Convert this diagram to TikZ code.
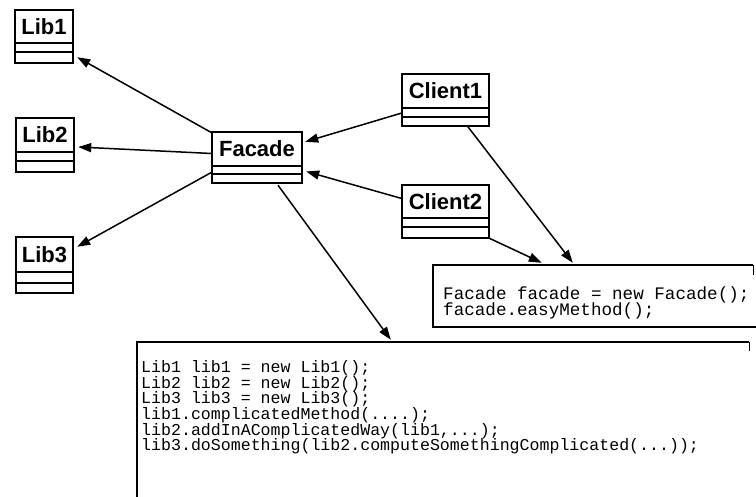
\documentclass[tikz,border=0pt]{standalone}
\usepackage{fontspec}
\setmainfont{Liberation Sans}
\newfontfamily\codefont{Liberation Mono}
\usetikzlibrary{arrows.meta,fit,calc}

\tikzset{
  boxline/.style={line width=1.8pt, draw=black},
  classname/.style={font=\fontsize{22}{24}\selectfont\bfseries, inner sep=0pt},
  assoc/.style={line width=1.5pt, -{Triangle[length=13pt,width=9pt]}},
  noteline/.style={line width=1.6pt},
  foldline/.style={line width=1pt},
  codesmall/.style={font=\codefont\fontsize{17.6}{17}\selectfont, anchor=base west, inner sep=0pt},
  codebig/.style={font=\codefont\fontsize{16.6}{16}\selectfont, anchor=base west, inner sep=0pt},
}

% UML class box: name, label, left, top, right, bottom, divider 1, divider 2
\newcommand\umlclass[8]{%
  \draw[boxline] (#3,#4) rectangle (#5,#6);
  \draw[boxline] (#3,#7) -- (#5,#7) (#3,#8) -- (#5,#8);
  \node[inner sep=0pt, fit={(#3,#4) (#5,#6)}] (#1) {};
  \node[classname] (#1-name) at ($(#3,#4)!.5!(#5,#7)$) {#2};
}

\begin{document}
\begin{tikzpicture}[x=1pt, y=-1pt]
  \useasboundingbox (0,0) rectangle (756,497);
  \clip (0,0) rectangle (756,497);
  \fill[white] (0,0) rectangle (756,497);

  % classes
  \umlclass{lib1}{Lib1}{15}{10}{73}{63}{43}{52}
  \umlclass{lib2}{Lib2}{16}{118}{74}{172}{152}{161}
  \umlclass{lib3}{Lib3}{16}{237}{73}{293}{272}{283}
  \umlclass{facade}{Facade}{212}{132}{302}{183}{166}{174}
  \umlclass{client1}{Client1}{402}{74}{489}{126}{108}{117}
  \umlclass{client2}{Client2}{402}{185}{489}{238}{218}{227}

  % notes (they run past the right and bottom edges)
  \draw[noteline] (790,327) -- (433,327) -- (433,265) -- (753,265);
  \draw[foldline] (753,265) -- (753,275);
  \node[inner sep=0pt, fit={(433,265) (790,327)}] (smallnote) {};

  \draw[noteline] (137,520) -- (137,342) -- (749,342);
  \draw[foldline] (749,342) -- (749,351);
  \node[inner sep=0pt, fit={(137,342) (790,520)}] (bignote) {};

  % note texts
  \node[codesmall] (s1) at (443,300) {Facade facade = new Facade();};
  \node[codesmall] (s2) at (443,316) {facade.easyMethod();};

  \node[codebig] (b1) at (141,372.7) {Lib1 lib1 = new Lib1();};
  \node[codebig] (b2) at (141,388.3) {Lib2 lib2 = new Lib2();};
  \node[codebig] (b3) at (141,403.9) {Lib3 lib3 = new Lib3();};
  \node[codebig] (b4) at (141,419.5) {lib1.complicatedMethod(....);};
  \node[codebig] (b5) at (141,435.1) {lib2.addInAComplicatedWay(lib1,...);};
  \node[codebig] (b6) at (141,450.7) {lib3.doSomething(lib2.computeSomethingComplicated(...));};

  % associations
  \draw[assoc] ($(facade.north west)+(0,1)$) -- ($(lib1.south east)+(4,-6)$);
  \draw[assoc] ($(facade.west)+(0,-4)$) -- ($(lib2.east)+(4,2)$);
  \draw[assoc] ($(facade.south west)+(0,-11)$) -- ($(lib3.north east)+(4,10)$);
  \draw[assoc] ($(client1.west)+(0,13)$) -- ($(facade.north east)+(3,10)$);
  \draw[assoc] ($(client2.west)+(0,-13)$) -- ($(facade.east)+(4,14)$);
  \draw[assoc] ($(client1.south)+(22,0)$) -- ($(smallnote.north west)+(140,-2)$);
  \draw[assoc] (client2.south east) -- ($(smallnote.north west)+(109,-2)$);
  \draw[assoc] ($(facade.south)+(21,2)$) -- ($(bignote.north west)+(254,-2)$);
\end{tikzpicture}
\end{document}
